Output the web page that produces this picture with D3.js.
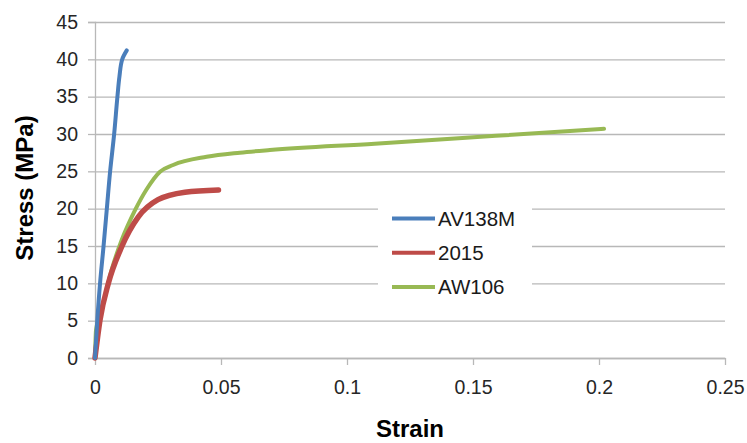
<!DOCTYPE html>
<html>
<head>
<meta charset="utf-8">
<script src="https://cdn.jsdelivr.net/npm/d3@7"></script>
<style>
  body { margin: 0; background: #fff; }
  svg text { font-family: "Liberation Sans", Arial, sans-serif; }
</style>
</head>
<body>
<div id="chart"></div>
<script>
// series
const seriesNames = ['AV138M', '2015', 'AW106'];
const seriesColors = ['#4a7ebb', '#be4b48', '#98b954'];

const av138mStrain = [0, 0.0009, 0.002, 0.0034, 0.0047, 0.006, 0.0076, 0.0089, 0.0097, 0.0108, 0.0126];
const av138mStress = [0, 5, 10, 15, 20, 25, 30, 35, 37.7, 40, 41.2];

const s2015Strain = [0, 0.002, 0.0053, 0.0106, 0.0172, 0.025, 0.0357, 0.049];
const s2015Stress = [0, 5.1, 10, 14.9, 18.9, 21.2, 22.2, 22.5];

const aw106Strain = [0, 0.0004, 0.0033, 0.0066, 0.0106, 0.0159, 0.0205, 0.0258, 0.031, 0.0443, 0.0575, 0.0694, 0.111, 0.159, 0.202];
const aw106Stress = [0, 3.7, 7.3, 11.8, 15.8, 19.8, 22.6, 24.95, 25.85, 26.95, 27.5, 27.85, 28.7, 29.75, 30.7];

const xTicks = [0, 0.05, 0.1, 0.15, 0.2, 0.25];
const yTicks = [0, 5, 10, 15, 20, 25, 30, 35, 40, 45];

const margin = { top: 22, right: 22, bottom: 85, left: 95 };
const width = 747 - margin.left - margin.right;
const height = 443 - margin.top - margin.bottom;

const x = d3.scaleLinear().domain([0, 0.25]).range([0, width]);
const y = d3.scaleLinear().domain([0, 45]).range([height, 0]);

const svg = d3.select('#chart').append('svg')
    .attr('width', 747)
    .attr('height', 443);

const g = svg.append('g')
    .attr('transform', `translate(${margin.left}, ${margin.top})`);

// horizontal gridlines
g.append('g')
    .attr('class', 'grid')
    .call(d3.axisLeft(y).tickValues(yTicks).tickSize(-width).tickFormat(''))
    .call(s => s.select('.domain').remove())
    .call(s => s.selectAll('line').attr('stroke', '#b8b8b8').attr('stroke-width', 1.3));

// y axis
g.append('g')
    .attr('class', 'y axis')
    .call(d3.axisLeft(y).tickValues(yTicks).tickSize(7).tickPadding(10).tickFormat(d3.format('d')))
    .call(s => s.select('.domain').attr('stroke', '#b8b8b8').attr('stroke-width', 1.3))
    .call(s => s.selectAll('line').attr('stroke', '#b8b8b8').attr('stroke-width', 1.3))
    .call(s => s.selectAll('text').attr('font-size', '19.5px').attr('fill', '#262626'));

// x axis
g.append('g')
    .attr('class', 'x axis')
    .attr('transform', `translate(0, ${height})`)
    .call(d3.axisBottom(x).tickValues(xTicks).tickSize(7).tickPadding(15).tickSizeOuter(0).tickFormat(d => String(d)))
    .call(s => s.select('.domain').attr('stroke', '#b8b8b8').attr('stroke-width', 1.3))
    .call(s => s.selectAll('line').attr('stroke', '#b8b8b8').attr('stroke-width', 1.3))
    .call(s => s.selectAll('text').attr('font-size', '19.5px').attr('fill', '#262626'));

// axis titles
svg.append('text')
    .attr('x', margin.left + width / 2)
    .attr('y', 437)
    .attr('text-anchor', 'middle')
    .attr('font-size', '24px')
    .attr('font-weight', 'bold')
    .text('Strain');

svg.append('text')
    .attr('transform', `translate(33, ${margin.top + height / 2 - 2}) rotate(-90)`)
    .attr('text-anchor', 'middle')
    .attr('font-size', '24px')
    .attr('font-weight', 'bold')
    .text('Stress (MPa)');

const series = [
  { name: seriesNames[0], color: seriesColors[0], w: 4, curve: d3.curveMonotoneY, pts: av138mStrain.map((s, i) => [s, av138mStress[i]]) },
  { name: seriesNames[1], color: seriesColors[1], w: 5.5, curve: d3.curveMonotoneX, pts: s2015Strain.map((s, i) => [s, s2015Stress[i]]) },
  { name: seriesNames[2], color: seriesColors[2], w: 4, curve: d3.curveMonotoneX, pts: aw106Strain.map((s, i) => [s, aw106Stress[i]]) },
];

const plot = g.append('g').attr('class', 'plot');

// draw green, then red, then blue on top
[2, 1, 0].forEach((i) => {
  const line = d3.line()
      .x(d => x(d[0]))
      .y(d => y(d[1]))
      .curve(series[i].curve);

  plot.append('path')
      .datum(series[i].pts)
      .attr('fill', 'none')
      .attr('stroke', series[i].color)
      .attr('stroke-width', series[i].w)
      .attr('stroke-linecap', 'round')
      .attr('stroke-linejoin', 'round')
      .attr('d', line);
});

// legend
const legend = svg.append('g')
    .attr('class', 'legend')
    .attr('transform', 'translate(378, 201)');

legend.append('rect')
    .attr('width', 154)
    .attr('height', 103)
    .attr('fill', '#fff');

const item = legend.selectAll('.item')
    .data(series)
  .enter().append('g')
    .attr('class', 'item')
    .attr('transform', (d, i) => `translate(14, ${17.5 + i * 34.3})`);

item.append('line')
    .attr('x1', 0)
    .attr('x2', 43)
    .attr('stroke', d => d.color)
    .attr('stroke-width', 4);

item.append('text')
    .attr('x', 46)
    .attr('y', 7)
    .attr('font-size', '20.5px')
    .attr('fill', '#1a1a1a')
    .text(d => d.name);
</script>
</body>
</html>
